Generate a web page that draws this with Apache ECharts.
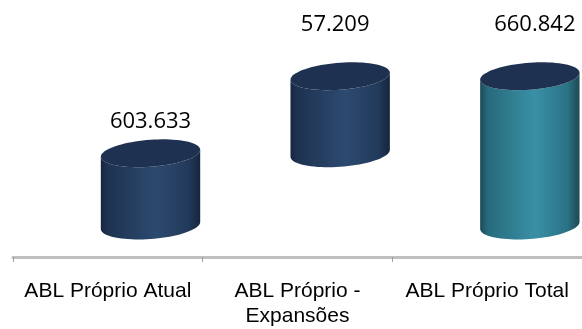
<!DOCTYPE html>
<html>
<head>
<meta charset="utf-8">
<script src="https://cdn.jsdelivr.net/npm/echarts@6/dist/echarts.min.js"></script>
<style>
  html, body { margin: 0; padding: 0; background: #fff; }
  #chart { width: 582px; height: 329px; }
</style>
</head>
<body>
<div id="chart"></div>
<script>
// Waterfall of own GLA (m²): current, expansions, total
const categories = ['ABL Próprio Atual', 'ABL Próprio -\nExpansões', 'ABL Próprio Total'];
const values = [603633, 57209, 660842];
const isTotal = [false, false, true];

// value axis range (hidden)
const axisMin = 550000;
const axisMax = 700000;

// waterfall segments: [categoryIndex, start, end]
const segments = [];
let running = axisMin;
values.forEach(function (v, i) {
  if (isTotal[i]) {
    segments.push([i, axisMin, v]);
  } else {
    const start = i === 0 ? axisMin : running;
    const end = i === 0 ? v : running + v;
    segments.push([i, start, end]);
    running = end;
  }
});

// cylinder appearance
const topColor = '#1e3150';
const sideStops = {
  step: [
    [0, '#172640'], [0.07, '#1e3251'], [0.55, '#2c4a6f'], [0.88, '#223a5b'], [1, '#16253c']
  ],
  total: [
    [0, '#1d4a57'], [0.08, '#276b7c'], [0.55, '#3990a6'], [0.88, '#2b7285'], [1, '#1c4955']
  ]
};
const labelGap = [32, 51, 51];
const labelShift = [0, -5, 5];

function fmt(v) {
  return String(v).replace(/\B(?=(\d{3})+(?!\d))/g, '.');
}

// points along a slightly tilted ellipse
function arc(cx, cy, rx, ry, tilt, t0, t1, n) {
  const pts = [];
  for (let j = 0; j <= n; j++) {
    const t = t0 + (t1 - t0) * j / n;
    const x = cx + rx * Math.cos(t);
    const y = cy + ry * Math.sin(t) + tilt * (x - cx);
    pts.push([x, y]);
  }
  return pts;
}

function renderCylinder(params, api) {
  const idx = api.value(0);
  const start = api.value(1);
  const end = api.value(2);
  const catW = api.size([1, 0])[0];
  const pTop = api.coord([idx, end]);
  const pBot = api.coord([idx, start]);
  const cx = pTop[0] + catW * 0.225;
  const rx = catW * 0.262;
  const ry = 13.5;
  const tilt = -0.07;
  const yTop = pTop[1];
  const yBot = pBot[1];

  const stops = isTotal[idx] ? sideStops.total : sideStops.step;
  const gradient = new echarts.graphic.LinearGradient(0, 0, 1, 0,
    stops.map(function (s) { return { offset: s[0], color: s[1] }; }));

  // side: top front arc (left→right along lower half) then bottom front arc back
  const side = arc(cx, yTop, rx, ry, tilt, Math.PI, 0, 40)
    .concat(arc(cx, yBot, rx, ry, tilt, 0, Math.PI, 40));
  const lid = arc(cx, yTop, rx, ry, tilt, 0, Math.PI * 2, 80);

  return {
    type: 'group',
    children: [
      { type: 'polygon', shape: { points: side }, style: { fill: gradient } },
      { type: 'polygon', shape: { points: lid }, style: { fill: topColor } },
      {
        type: 'text',
        style: {
          text: fmt(values[idx]),
          x: cx + labelShift[idx],
          y: yTop - labelGap[idx],
          align: 'center',
          verticalAlign: 'middle',
          fontFamily: 'Open Sans',
          fontSize: 22,
          fill: '#000'
        }
      }
    ]
  };
}

const chart = echarts.init(document.getElementById('chart'), null, { renderer: 'canvas' });
chart.setOption({
  animation: false,
  backgroundColor: '#fff',
  grid: { left: 13, right: -3.6, top: 23.5, bottom: 98.5, containLabel: false },
  xAxis: {
    type: 'category',
    data: categories,
    offset: 31.5,
    boundaryGap: true,
    axisLine: { show: true, lineStyle: { color: '#bfbfbf', width: 3 } },
    axisTick: { show: true, length: 5, lineStyle: { color: '#a0a0a0', width: 1 } },
    axisLabel: {
      interval: 0,
      margin: 22,
      fontFamily: 'Liberation Sans',
      fontSize: 21,
      lineHeight: 25,
      color: '#000'
    },
    splitLine: { show: false }
  },
  yAxis: {
    type: 'value',
    min: axisMin,
    max: axisMax,
    show: false
  },
  series: [{
    type: 'custom',
    renderItem: renderCylinder,
    encode: { x: 0, y: [1, 2] },
    data: segments,
    clip: false
  }]
});
</script>
</body>
</html>
